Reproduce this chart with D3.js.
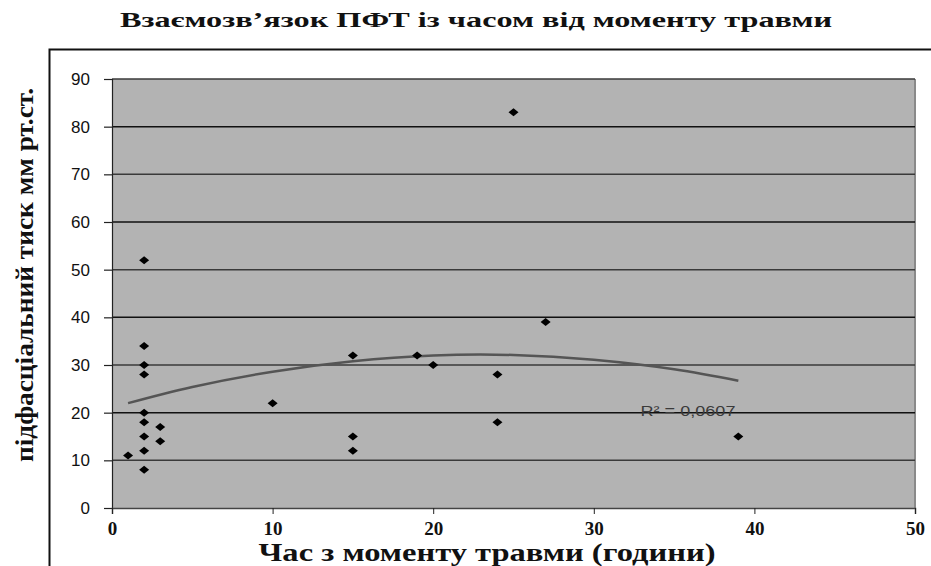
<!DOCTYPE html>
<html>
<head>
<meta charset="utf-8">
<script src="https://cdn.jsdelivr.net/npm/d3@7"></script>
<style>
  html, body { margin: 0; padding: 0; background: #fff; }
  svg { display: block; }
  .serif { font-family: 'Liberation Serif', 'Times New Roman', 'DejaVu Serif', serif; font-weight: bold; }
  .sans { font-family: 'Liberation Sans', Arial, sans-serif; }
</style>
</head>
<body>
<svg id="chart" width="931" height="566"></svg>
<script>
// ---- data ----
const hours    = [1, 2, 2, 2, 2, 2, 2, 2, 2, 2, 3, 3, 10, 15, 15, 15, 19, 20, 24, 24, 25, 27, 39];
const pressure = [11, 52, 34, 30, 28, 20, 18, 15, 12, 8, 17, 14, 22, 32, 15, 12, 32, 30, 28, 18, 83, 39, 15];
const trendHours = [1, 5, 10, 15, 20, 25, 30, 35, 39];
const trendValue = [22.0, 25.4, 28.6, 30.8, 32.0, 32.1, 31.1, 29.1, 26.7];
const xTicks = [0, 10, 20, 30, 40, 50];
const yTicks = [0, 10, 20, 30, 40, 50, 60, 70, 80, 90];
const titleText = "Взаємозв’язок ПФТ із часом від моменту травми";
const xTitle = "Час з моменту травми (години)";
const yTitle = "підфасціальний тиск мм рт.ст.";
const r2Label = "R² = 0,0607";

const svg = d3.select("#chart");
const L = 112, R = 915, T = 79, B = 508;

const x = d3.scaleLinear().domain([0, 50]).range([L, R]);
const y = d3.scaleLinear().domain([0, 90]).range([B, T]);

// outer frame
svg.append("rect").attr("x", 49.5).attr("y", 49.5).attr("width", 900).attr("height", 600)
  .attr("fill", "#fff").attr("stroke", "#111").attr("stroke-width", 2);

// title
svg.append("text").attr("class", "serif").attr("x", 476).attr("y", 27)
  .attr("text-anchor", "middle").attr("font-size", 22).attr("fill", "#111")
  .attr("textLength", 712).attr("lengthAdjust", "spacingAndGlyphs")
  .text(titleText);

// plot area
svg.append("rect").attr("x", L).attr("y", T).attr("width", R - L).attr("height", B - T)
  .attr("fill", "#b3b3b3");
svg.append("line").attr("x1", R).attr("x2", R).attr("y1", T).attr("y2", B)
  .attr("stroke", "#8a8a8a").attr("stroke-width", 2);

// gridlines
svg.append("g").selectAll("line").data(yTicks.filter(d => d > 0)).join("line")
  .attr("x1", L).attr("x2", R).attr("y1", d => y(d)).attr("y2", d => y(d))
  .attr("stroke", (d, i) => i % 2 ? "#111" : "#3a3a3a").attr("stroke-width", 1.5);

// y axis
const yAxis = svg.append("g").attr("transform", `translate(${L},0)`)
  .call(d3.axisLeft(y).tickValues(yTicks).tickSize(8).tickPadding(14));
yAxis.attr("font-family", null);
yAxis.select(".domain").attr("stroke", "#222").attr("stroke-width", 1.2);
yAxis.selectAll(".tick line").attr("stroke", "#222").attr("stroke-width", 1.2);
yAxis.selectAll("text").attr("class", "sans")
  .attr("font-size", 17).attr("fill", "#111");

// x axis
const xAxis = svg.append("g").attr("transform", `translate(0,${B})`)
  .call(d3.axisBottom(x).tickValues(xTicks).tickSize(6).tickPadding(7));
xAxis.attr("font-family", null);
xAxis.select(".domain").attr("stroke", "#444").attr("stroke-width", 1.5);
xAxis.selectAll(".tick line").attr("stroke", "#222");
xAxis.selectAll("text").attr("class", "serif")
  .attr("font-size", 19).attr("fill", "#111").attr("dy", "0.75em");

// trend line
svg.append("path").datum(trendHours.map((h, i) => [h, trendValue[i]]))
  .attr("d", d3.line().x(d => x(d[0])).y(d => y(d[1])).curve(d3.curveNatural))
  .attr("fill", "none").attr("stroke", "#555").attr("stroke-width", 2.5);

// points (diamonds)
svg.append("g").selectAll("path").data(hours.map((h, i) => [h, pressure[i]])).join("path")
  .attr("transform", d => `translate(${x(d[0])},${y(d[1])})`)
  .attr("d", "M0,-4L5,0L0,4L-5,0Z")
  .attr("fill", "#000");

// R² label
svg.append("text").attr("class", "sans").attr("x", 688).attr("y", 416).attr("text-anchor", "middle")
  .attr("font-size", 14).attr("fill", "#3a3a3a")
  .attr("textLength", 95).attr("lengthAdjust", "spacingAndGlyphs")
  .text(r2Label);

// axis titles
svg.append("text").attr("class", "serif").attr("x", 487).attr("y", 561).attr("text-anchor", "middle")
  .attr("font-size", 26).attr("fill", "#111")
  .attr("textLength", 457).attr("lengthAdjust", "spacingAndGlyphs")
  .text(xTitle);

svg.append("text").attr("class", "serif").attr("transform", "translate(33,275) rotate(-90)")
  .attr("text-anchor", "middle").attr("font-size", 25).attr("fill", "#111")
  .attr("textLength", 374).attr("lengthAdjust", "spacingAndGlyphs")
  .text(yTitle);
</script>
</body>
</html>
